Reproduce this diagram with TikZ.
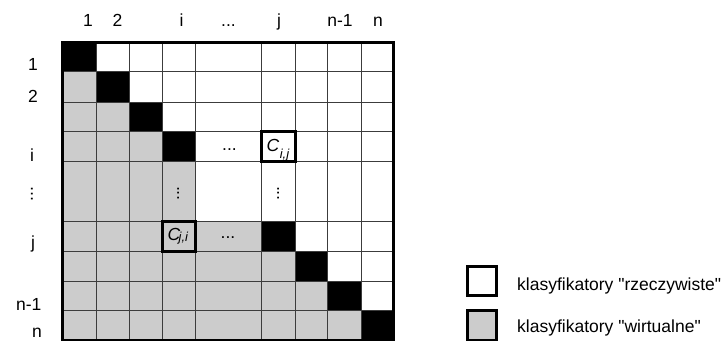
\documentclass[tikz,border=0pt]{standalone}
\usepackage{fontspec}
\setmainfont{Liberation Sans}
\usepackage{graphicx}
\definecolor{cellgray}{RGB}{204,204,204}
\definecolor{gridline}{RGB}{60,60,60}
\newcommand{\subtxt}[1]{{\fontsize{13}{14}\selectfont\itshape #1}}
\begin{document}
\begin{tikzpicture}[x=1pt,y=-1pt,
  lab/.style={font=\fontsize{17.5}{20}\selectfont, inner sep=0pt, anchor=base},
  labc/.style={font=\fontsize{17.5}{20}\selectfont, inner sep=0pt, anchor=center},
  labw/.style={font=\fontsize{17.5}{20}\selectfont, inner sep=0pt, anchor=base west},
  thinline/.style={draw=gridline, line width=0.9pt},
  thickbox/.style={draw=black, line width=3pt},
  legbox/.style={draw=black, line width=3pt, minimum width=29.3pt, minimum height=29.3pt, inner sep=0pt}]
\useasboundingbox (0,0) rectangle (728,340);
\def\XL{{62.5,96.7,129.3,162.7,195.7,261.7,295,327.7,361,393.3}}
\def\YL{{42,71,102.7,131.7,161.7,221,251.7,281.7,310.7,340.5}}
\foreach \i in {0,...,9}{
  \foreach \j in {0,...,9}{
    \pgfmathsetmacro\xx{\XL[\i]}
    \pgfmathsetmacro\yy{\YL[\j]}
    \coordinate (g-\i-\j) at (\xx,\yy);
  }
}
% white background of grid
\fill[white] (g-0-0) rectangle (g-9-9);
% grey lower triangle
\fill[cellgray] (g-0-1) -- (g-0-9) -- (g-8-9) -- (g-8-8) -- (g-7-8) -- (g-7-7)
  -- (g-6-7) -- (g-6-6) -- (g-5-6) -- (g-5-5) -- (g-4-5) -- (g-4-4) -- (g-3-4)
  -- (g-3-3) -- (g-2-3) -- (g-2-2) -- (g-1-2) -- (g-1-1) -- cycle;
% black diagonal cells
\foreach \k [evaluate=\k as \km using int(\k-1)] in {1,2,3,4,6,7,8,9}{
  \fill[black] (g-\km-\km) rectangle (g-\k-\k);
}
% grid lines
\foreach \i in {1,...,8}{
  \draw[thinline] (g-\i-0) -- (g-\i-9);
  \draw[thinline] (g-0-\i) -- (g-9-\i);
}
% outer border
\draw[thickbox] (g-0-0) rectangle (g-9-9);
% highlighted cells
\draw[thickbox] (g-5-3) rectangle (g-6-4);
\draw[thickbox] (g-3-5) rectangle (g-4-6);
% column labels
\node[lab] (c1) at (88,27) {1};
\node[lab] (c2) at (117.5,27) {2};
\node[lab] (ci) at (181.5,27) {i};
\node[lab] (cd) at (228.5,27) {...};
\node[lab] (cj) at (279,27) {j};
\node[lab] (cn1) at (340,27) {n-1};
\node[lab] (cn) at (378,27) {n};
% row labels
\node[lab] (r1) at (33,70) {1};
\node[lab] (r2) at (33,102) {2};
\node[lab] (ri) at (32,161.5) {i};
\node[labc] (rd) at (32,194) {\rotatebox{90}{...}};
\node[lab] (rj) at (33,248) {j};
\node[lab] (rn1) at (28.7,310) {n-1};
\node[lab] (rn) at (37,337) {n};
% cell texts
\node[lab] (dots1) at (229.5,150.5) {...};
\node[lab] (dots2) at (228,238.5) {...};
\node[labc] (vd1) at (178.3,193.5) {\rotatebox{90}{...}};
\node[labc] (vd2) at (278.3,193.5) {\rotatebox{90}{...}};
\node[labw] (cij) at (266.5,151.7) {\itshape C\kern0.5pt\raisebox{-6.6pt}{\subtxt{i,j}}};
\node[labw] (cji) at (167.5,240) {\itshape C\kern-1.6pt\raisebox{-1.5pt}{\subtxt{j,i}}};
% legend
\node[legbox, fill=white] (lw) at (482.2,281) {};
\node[legbox, fill=cellgray] (lg) at (482.2,325.5) {};
\node[labw] (tw) at (517,290) {klasyfikatory \textquotedbl rzeczywiste\textquotedbl};
\node[labw] (tg) at (517,332) {klasyfikatory \textquotedbl wirtualne\textquotedbl};
\end{tikzpicture}
\end{document}
